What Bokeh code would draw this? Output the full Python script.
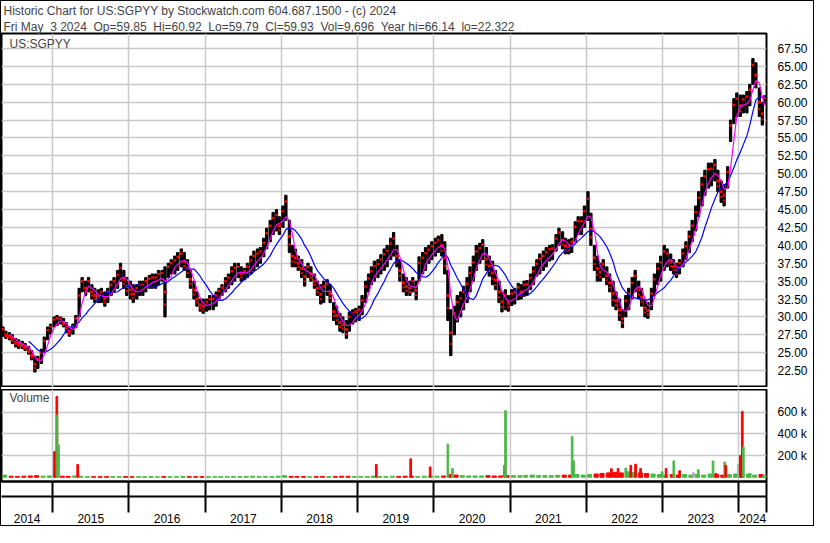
import numpy as np
import pandas as pd
from bokeh.plotting import figure
from bokeh.layouts import column
from bokeh.models import (Range1d, FixedTicker, LinearAxis, Label, Title,
                          NumeralTickFormatter, CustomJSTickFormatter)
from bokeh.embed import file_html
from bokeh.resources import INLINE

FONT = "Liberation Sans"

# ---------------- texts ----------------
title_line1 = "Historic Chart for US:SGPYY by Stockwatch.com 604.687.1500 - (c) 2024"
title_line2 = ("Fri May \u00a03 2024 \u00a0Op=59.85 \u00a0Hi=60.92 \u00a0Lo=59.79 \u00a0Cl=59.93"
               " \u00a0Vol=9,696 \u00a0Year hi=66.14 \u00a0lo=22.322")
symbol_label = "US:SGPYY"
volume_label = "Volume"

# ---------------- data ----------------
first_period = "2014-05-01"
last_day = "2024-05-03"
view_start = "2014-05-01"
view_end = "2024-05-12"

# half-month high / low (first half, second half of each month), May 2014 .. May 2024
half_hi = [
    # 2014 May..Dec
    28.6, 28.0, 27.8, 27.5, 27.0, 26.8, 26.6, 26.3, 25.9, 25.3, 24.5, 24.5, 25.5, 27.2, 28.6, 29.0,
    # 2015
    30.0, 30.2, 30.0, 29.8, 29.2, 28.6, 29.0, 30.2, 34.0, 35.5, 35.0, 35.5,
    34.5, 34.0, 33.8, 34.0, 33.5, 34.0, 35.0, 35.5, 36.5, 37.5, 36.5, 35.5,
    # 2016
    35.0, 34.5, 34.5, 35.0, 35.0, 35.5, 35.8, 36.0, 36.0, 36.5, 36.5, 37.0,
    37.5, 38.0, 38.5, 39.0, 39.5, 39.0, 38.0, 36.5, 35.0, 33.5, 32.5, 32.5,
    # 2017
    32.5, 33.0, 33.0, 33.5, 34.0, 34.5, 35.5, 36.0, 37.0, 37.5, 37.5, 37.0,
    36.8, 37.5, 38.5, 39.2, 39.5, 39.7, 41.0, 42.4, 43.5, 44.6, 45.0, 44.0,
    # 2018
    45.5, 47.0, 43.5, 40.0, 39.5, 38.5, 38.0, 37.0, 37.5, 37.0, 36.0, 35.0,
    34.5, 35.0, 35.2, 34.5, 32.0, 31.5, 30.5, 30.0, 29.5, 30.7, 31.0, 31.2,
    # 2019
    31.5, 33.0, 35.0, 36.0, 37.0, 37.8, 38.0, 38.7, 39.5, 40.0, 41.0, 41.8,
    40.0, 38.0, 36.0, 35.5, 35.0, 35.5, 35.0, 38.4, 39.0, 39.7, 40.0, 40.5,
    # 2020
    41.0, 41.3, 41.5, 40.5, 36.5, 31.0, 31.5, 33.0, 33.5, 34.3, 35.5, 37.0,
    38.5, 40.0, 40.3, 40.8, 39.7, 38.5, 37.8, 36.5, 35.0, 33.5, 33.8, 33.0,
    # 2021
    33.8, 34.0, 34.7, 34.5, 35.0, 35.1, 36.0, 37.0, 38.0, 38.8, 39.2, 39.7,
    40.0, 40.1, 41.5, 42.4, 41.9, 41.0, 40.8, 41.0, 43.3, 44.0, 44.0, 45.5,
    # 2022
    47.5, 44.5, 40.0, 38.5, 37.5, 38.0, 37.0, 36.0, 35.0, 33.5, 32.5, 31.0,
    33.0, 34.0, 35.5, 36.5, 35.0, 34.0, 32.5, 32.0, 34.0, 36.0, 37.5, 38.5,
    # 2023
    40.0, 39.5, 38.8, 38.0, 37.5, 38.0, 39.5, 40.5, 42.0, 43.5, 45.5, 47.5,
    49.5, 50.5, 51.5, 51.5, 52.0, 50.5, 49.0, 48.5, 51.0, 57.5, 60.5, 61.3,
    # 2024 Jan..May
    61.0, 61.0, 61.5, 62.5, 66.1, 65.5, 62.0, 60.0, 60.9,
]
half_lo = [
    # 2014 May..Dec
    27.3, 27.0, 26.8, 26.3, 25.8, 25.6, 25.6, 25.3, 24.8, 24.0, 22.3, 22.8, 23.5, 25.0, 26.8, 27.6,
    # 2015
    28.6, 28.8, 29.0, 28.6, 27.8, 27.3, 27.6, 28.5, 30.0, 33.5, 33.0, 33.5,
    32.5, 32.0, 32.0, 32.0, 31.5, 32.0, 33.0, 33.5, 34.0, 35.0, 34.0, 33.0,
    # 2016
    32.5, 32.0, 32.5, 33.0, 33.0, 33.5, 34.0, 34.0, 34.0, 34.5, 35.0, 30.0,
    35.5, 36.0, 36.0, 36.5, 37.0, 36.5, 35.5, 34.0, 32.5, 31.5, 30.8, 30.5,
    # 2017
    30.8, 31.0, 31.0, 31.5, 32.5, 33.0, 33.5, 34.0, 34.5, 35.0, 35.5, 35.0,
    35.2, 35.5, 36.0, 36.5, 37.0, 37.5, 38.4, 39.5, 40.5, 41.5, 42.0, 41.5,
    # 2018
    42.5, 43.5, 39.0, 37.0, 37.0, 36.5, 35.5, 34.3, 35.5, 35.0, 34.0, 33.0,
    31.8, 32.0, 33.0, 32.0, 29.5, 28.9, 28.0, 27.8, 27.0, 28.0, 29.0, 29.3,
    # 2019
    29.5, 30.3, 32.0, 33.5, 34.5, 35.0, 35.5, 36.0, 36.5, 37.0, 38.0, 38.5,
    37.0, 35.0, 33.5, 33.0, 33.0, 33.5, 32.4, 35.0, 36.0, 36.5, 37.5, 38.0,
    # 2020
    38.5, 39.0, 38.5, 36.0, 29.5, 24.6, 27.5, 29.3, 30.0, 31.0, 32.0, 33.5,
    35.0, 36.5, 37.5, 38.0, 36.5, 35.7, 34.5, 33.8, 32.0, 30.7, 31.0, 30.8,
    # 2021
    31.6, 31.8, 32.4, 32.5, 32.9, 33.0, 33.8, 34.5, 35.7, 36.0, 36.5, 37.0,
    37.8, 38.0, 39.2, 40.0, 39.5, 38.8, 38.8, 39.0, 40.5, 41.5, 41.5, 42.5,
    # 2022
    43.5, 40.0, 36.5, 35.0, 35.0, 35.5, 34.5, 33.5, 31.5, 31.0, 29.5, 28.5,
    30.0, 31.0, 32.5, 33.5, 32.5, 31.5, 30.0, 29.8, 31.0, 33.0, 34.5, 35.0,
    # 2023
    36.5, 37.0, 36.5, 36.0, 35.5, 36.0, 37.0, 38.0, 39.0, 40.5, 42.0, 44.0,
    45.5, 47.0, 48.0, 48.3, 49.0, 47.5, 46.0, 45.5, 48.0, 54.5, 57.0, 58.0,
    # 2024 Jan..May
    58.0, 58.5, 58.5, 59.5, 62.5, 62.0, 58.0, 56.8, 59.8,
]
# typical daily volume per month, thousands (May 2014 .. May 2024)
month_vol_k = [
    20, 10, 8, 10, 12, 15, 10, 12,
    15, 10, 8, 12, 10, 6, 5, 5, 5, 6, 5, 6,
    5, 5, 5, 6, 5, 6, 5, 5, 8, 6, 5, 5,
    5, 5, 6, 6, 8, 6, 8, 10, 6, 8, 6, 10,
    15, 8, 6, 6, 5, 6, 8, 6, 8, 10, 8, 6,
    8, 8, 10, 8, 8, 10, 8, 10, 10, 8, 10, 12,
    10, 12, 25, 20, 15, 12, 12, 12, 15, 12, 12, 15,
    15, 15, 18, 20, 15, 15, 15, 18, 20, 20, 25, 20,
    25, 30, 35, 40, 45, 40, 50, 45, 40, 35, 30, 25,
    20, 25, 20, 25, 20, 25, 20, 30, 25, 20, 25, 30,
    25, 30, 20, 25, 15,
]
# individual high-volume days (thousands); direction 1=up, 0=down, 2=unchanged
spike_dates = [
    "2015-01-10", "2015-01-21", "2015-01-22", "2015-01-29", "2015-05-01",
    "2019-03-31", "2019-09-12", "2019-12-14", "2020-03-08", "2020-03-30",
    "2020-12-05", "2020-12-09", "2021-10-24", "2021-10-31",
    "2022-04-30", "2022-06-01", "2022-07-08", "2022-08-01", "2022-08-24",
    "2022-09-17", "2022-12-29", "2023-01-17", "2023-02-23", "2023-03-23",
    "2023-05-28", "2023-06-20", "2023-08-30", "2023-09-13", "2023-10-25",
    "2023-10-30", "2023-12-30", "2024-01-08", "2024-01-17", "2024-01-22",
    "2024-02-24",
]
spike_vol_k = [
    235, 745, 572, 298, 118,
    118, 170, 95, 305, 80,
    110, 612, 376, 150,
    78, 80, 85, 110, 120,
    80, 50, 80, 150, 60,
    40, 70, 150, 35, 140,
    110, 115, 200, 605, 280,
    35,
]
spike_dir = [
    0, 0, 1, 1, 0,
    0, 0, 0, 1, 1,
    0, 1, 1, 1,
    0, 0, 1, 0, 0,
    0, 1, 0, 1, 0,
    2, 1, 1, 0, 1,
    0, 2, 0, 0, 1,
    1,
]

price_ticks = [22.5, 25.0, 27.5, 30.0, 32.5, 35.0, 37.5, 40.0, 42.5, 45.0,
               47.5, 50.0, 52.5, 55.0, 57.5, 60.0, 62.5, 65.0, 67.5]
price_range = (20.14, 69.6)
volume_ticks_k = [200, 400, 600]
volume_range_k = (-39, 808)
years = list(range(2014, 2025))
fast_ma_periods = 3   # half-months
slow_ma_periods = 9   # half-months

# ---------------- derived ----------------
def ms(d):
    return pd.Timestamp(d).value / 1e6

DAY = 86400000.0
halves = pd.date_range(first_period, periods=len(half_hi), freq="SMS")
bar_dates = [min(h + pd.Timedelta(days=7), pd.Timestamp(last_day)) for h in halves]
hi = np.array(half_hi)
lo = np.array(half_lo)
mid = (hi + lo) / 2
ma_fast = pd.Series(mid).rolling(fast_ma_periods).mean().to_numpy()
ma_slow = pd.Series(mid).rolling(slow_ma_periods).mean().to_numpy()
down = np.concatenate([[False], np.diff(mid) < 0])
upm = ~down

months = pd.date_range(first_period, periods=len(month_vol_k), freq="MS")
vol_dates = [min(m + pd.Timedelta(days=15), pd.Timestamp(last_day)) for m in months]
month_mid = [mid[2 * i:2 * i + 2].mean() for i in range(len(month_vol_k))]
month_up = np.concatenate([[1], (np.diff(month_mid) >= 0).astype(int)])

x0, x1 = ms(view_start), ms(view_end)
year_lines = [ms(f"{y}-01-01") for y in years if x0 < ms(f"{y}-01-01") < x1]
seg_edges = [x0] + year_lines + [x1]
year_label_pos = [(a + b) / 2 for a, b in zip(seg_edges[:-1], seg_edges[1:])]

GREEN, RED, GRAY = "#4cb848", "#ff0000", "#a8a8a8"
base_colors = [GREEN if u else RED for u in month_up]
spike_colors = [GREEN if d == 1 else (RED if d == 0 else GRAY) for d in spike_dir]

# ---------------- layout sizes ----------------
W = 812
AXW = 47
PH = 386
VH = 136
GRID = "#c8c8c8"

# ---------------- price panel ----------------
p = figure(width=W, height=PH, x_range=Range1d(x0, x1), y_range=Range1d(*price_range),
           x_axis_type="datetime", x_axis_location=None, y_axis_location="right",
           toolbar_location=None, output_backend="svg", title=title_line1,
           min_border_left=0, min_border_top=0, min_border_bottom=0, min_border_right=AXW)
p.title.text_font = FONT
p.title.text_font_size = "12px"
p.title.text_font_style = "normal"
p.title.align = "left"
p.title.offset = 2
p.title.standoff = 0
t2 = Title(text=title_line2, text_font=FONT, text_font_size="12px", text_font_style="normal",
           align="left", offset=2, standoff=0)
p.add_layout(t2, "above")

p.outline_line_color = "black"
p.outline_line_width = 2
p.xgrid.ticker = FixedTicker(ticks=year_lines)
p.ygrid.ticker = FixedTicker(ticks=price_ticks)
for g in (p.xgrid, p.ygrid):
    g.grid_line_color = GRID
    g.grid_line_width = 1.5

ya = p.yaxis[0]
ya.ticker = FixedTicker(ticks=price_ticks)
ya.formatter = NumeralTickFormatter(format="0.00")
ya.major_tick_line_color = None
ya.minor_tick_line_color = None
ya.axis_line_color = None
ya.major_label_text_font = FONT
ya.major_label_text_font_size = "12px"
ya.major_label_text_color = "black"
ya.major_label_standoff = 5

p.vbar(x=bar_dates, top=hi, bottom=lo, width=11 * DAY, color="black")
dn_dates = [d for d, f in zip(bar_dates, down) if f]
up_dates = [d for d, f in zip(bar_dates, upm) if f]
p.scatter(x=dn_dates, y=mid[down], marker="square", size=3, color=RED, line_width=0)
p.scatter(x=dn_dates, y=(lo[down] + mid[down]) / 2, marker="square", size=2, color=RED, line_width=0)
p.scatter(x=up_dates, y=(hi[upm] + mid[upm]) / 2, marker="square", size=2.5, color=RED, line_width=0)
p.line(bar_dates, ma_slow, color="#0000ff", line_width=1.2)
p.line(bar_dates, ma_fast, color="#ff00ff", line_width=1.2)

p.add_layout(Label(x=x0, y=price_range[1] - 0.5, x_offset=8, text=symbol_label,
                   text_font=FONT, text_font_size="12px", text_baseline="top"))

# ---------------- volume panel ----------------
v = figure(width=W, height=VH, x_range=p.x_range,
           y_range=Range1d(volume_range_k[0] * 1000, volume_range_k[1] * 1000),
           x_axis_type="datetime", x_axis_location=None, y_axis_location="right",
           toolbar_location=None, output_backend="svg",
           min_border_left=0, min_border_top=0, min_border_bottom=0, min_border_right=AXW)
v.outline_line_color = "black"
v.outline_line_width = 2
v.xgrid.ticker = FixedTicker(ticks=year_lines)
v.ygrid.ticker = FixedTicker(ticks=[t * 1000 for t in volume_ticks_k])
for g in (v.xgrid, v.ygrid):
    g.grid_line_color = GRID
    g.grid_line_width = 1.5

vy = v.yaxis[0]
vy.ticker = FixedTicker(ticks=[t * 1000 for t in volume_ticks_k])
vy.formatter = CustomJSTickFormatter(code="return (tick / 1000).toFixed(0) + ' k'")
vy.major_tick_line_color = None
vy.minor_tick_line_color = None
vy.axis_line_color = None
vy.major_label_text_font = FONT
vy.major_label_text_font_size = "12px"
vy.major_label_text_color = "black"
vy.major_label_standoff = 5

v.vbar(x=vol_dates, top=np.array(month_vol_k) * 1000, bottom=0, width=20 * DAY, color=base_colors)
v.vbar(x=[pd.Timestamp(d) for d in spike_dates], top=np.array(spike_vol_k) * 1000, bottom=0,
       width=8 * DAY, color=spike_colors)

v.add_layout(Label(x=x0, y=volume_range_k[1] * 1000 * 0.985, x_offset=8, text=volume_label,
                   text_font=FONT, text_font_size="12px", text_baseline="top"))

# year separator band (axis 1, no labels) and year labels row (axis 2)
ax1 = LinearAxis(ticker=FixedTicker(ticks=[], minor_ticks=year_lines + [x1]),
                 major_tick_in=0, major_tick_out=15, major_tick_line_color=None,
                 minor_tick_in=0, minor_tick_out=15, minor_tick_line_width=2,
                 minor_tick_line_color="black",
                 axis_line_width=2, axis_line_color="black",
                 major_label_text_font=FONT, major_label_text_font_size="12px",
                 major_label_standoff=0)
ax2 = LinearAxis(ticker=FixedTicker(ticks=year_label_pos, minor_ticks=year_lines + [x1]),
                 major_tick_in=0, major_tick_out=0, major_tick_line_color=None,
                 minor_tick_in=0, minor_tick_out=16, minor_tick_line_width=2,
                 minor_tick_line_color="black",
                 axis_line_width=2, axis_line_color="black",
                 formatter=CustomJSTickFormatter(code="return String(new Date(tick).getUTCFullYear())"),
                 major_label_text_font=FONT, major_label_text_font_size="12px",
                 major_label_text_color="black", major_label_standoff=1)
v.add_layout(ax1, "below")
v.add_layout(ax2, "below")

layout = column(p, v, spacing=2, styles={"border": "1px solid black"})

open("out.html", "w").write(file_html(layout, INLINE))
